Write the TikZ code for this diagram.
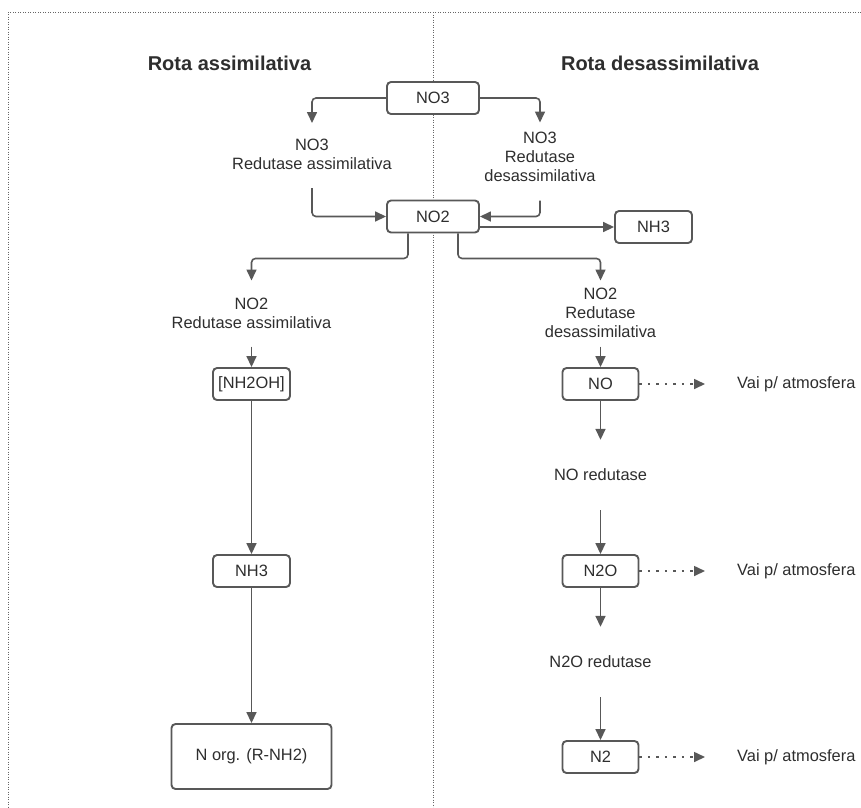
\documentclass[tikz,border=0pt]{standalone}
\usepackage{fontspec}
\setmainfont{Liberation Sans}
\usetikzlibrary{arrows.meta}
\definecolor{linec}{HTML}{585858}
\definecolor{textc}{HTML}{2E2E2E}
\definecolor{framec}{HTML}{666666}
\begin{document}
\begin{tikzpicture}[x=1pt,y=-1pt,
  every node/.style={text=textc, font=\fontsize{16.4}{19}\selectfont},
  box/.style={draw=linec, fill=white, line width=1.9pt, rounded corners=4pt, minimum height=32pt, inner sep=0pt},
  lbl/.style={align=center, inner sep=0pt},
  conn/.style={draw=linec, line width=1.6pt, rounded corners=4pt, -{Triangle[length=11pt,width=10pt]}},
  dotconn/.style={draw=linec, line width=1.6pt, dash pattern=on 2.5pt off 6pt, -{Triangle[length=11pt,width=10pt]}},
  frame/.style={draw=framec, line width=0.9pt, dash pattern=on 0.9pt off 1.6pt},
  title/.style={font=\fontsize{20}{24}\selectfont\bfseries, text=textc, inner sep=0pt}]
\fill[white] (0,0) rectangle (861,807);
\useasboundingbox (0,0) rectangle (861,807);

% frame
\draw[frame] (861,12) -- (8,12) -- (8,807);
\draw[frame] (433,12) -- (433,807);

% titles
\node[title] (tl) at (229.5,63) {Rota assimilativa};
\node[title] (tr) at (660,63) {Rota desassimilativa};

% nodes
\node[box, minimum width=92pt] (no3) at (433,98) {NO3};
\node[box, minimum width=92pt] (no2) at (433,216.5) {NO2};
\node[box, minimum width=77pt] (nh3r) at (653.5,227) {NH3};
\node[lbl] (t1) at (312,154.5) {NO3\\Redutase assimilativa};
\node[lbl] (t2) at (540,156.5) {NO3\\Redutase\\desassimilativa};
\node[lbl] (t3) at (251.5,313) {NO2\\Redutase assimilativa};
\node[lbl] (t4) at (600.5,312.5) {NO2\\Redutase\\desassimilativa};
\node[box, minimum width=77pt] (nh2oh) at (251.5,384) {[NH2OH]};
\node[box, minimum width=77pt] (nh3l) at (251.5,571) {NH3};
\node[box, minimum width=160pt, minimum height=65pt] (norg) at (251.5,756.5) {N org. (R-NH2)};
\node[box, minimum width=76pt] (no) at (600.5,384) {NO};
\node[lbl, minimum height=70pt] (t5) at (600.5,475) {NO redutase};
\node[box, minimum width=76pt] (n2o) at (600.5,571) {N2O};
\node[lbl, minimum height=70pt] (t6) at (600.5,662) {N2O redutase};
\node[box, minimum width=76pt] (n2) at (600.5,757) {N2};
\node[lbl, anchor=west] (v1) at (737,384) {Vai p/ atmosfera};
\node[lbl, anchor=west] (v2) at (737,571) {Vai p/ atmosfera};
\node[lbl, anchor=west] (v3) at (737,757) {Vai p/ atmosfera};

% connectors
\draw[conn, shorten >=16pt] (no3.west) -| (t1.north);
\draw[conn, shorten <=18pt] (t1.south) |- (no2.west);
\draw[conn, shorten >=9pt] (no3.east) -| (t2.north);
\draw[conn, shorten <=19pt] (t2.south) |- (no2.east);
\draw[conn] (no2.east |- nh3r.west) -- (nh3r.west);
\draw[conn, shorten >=17pt] ([xshift=-25pt]no2.south) -- ++(0,25) -| (t3.north);
\draw[conn, shorten >=7pt] ([xshift=25pt]no2.south) -- ++(0,25) -| (t4.north);
\draw[conn, shorten <=18pt] (t3.south) -- (nh2oh.north);
\draw[conn, shorten <=9pt] (t4.south) -- (no.north);
\draw[conn] (nh2oh) -- (nh3l);
\draw[conn] (nh3l) -- (norg);
\draw[conn] (no) -- (t5);
\draw[conn] (t5) -- (n2o);
\draw[conn] (n2o) -- (t6);
\draw[conn] (t6) -- (n2);
\draw[dotconn, shorten >=32pt] (no.east) -- (v1.west);
\draw[dotconn, shorten >=32pt] (n2o.east) -- (v2.west);
\draw[dotconn, shorten >=32pt] (n2.east) -- (v3.west);
\end{tikzpicture}
\end{document}
